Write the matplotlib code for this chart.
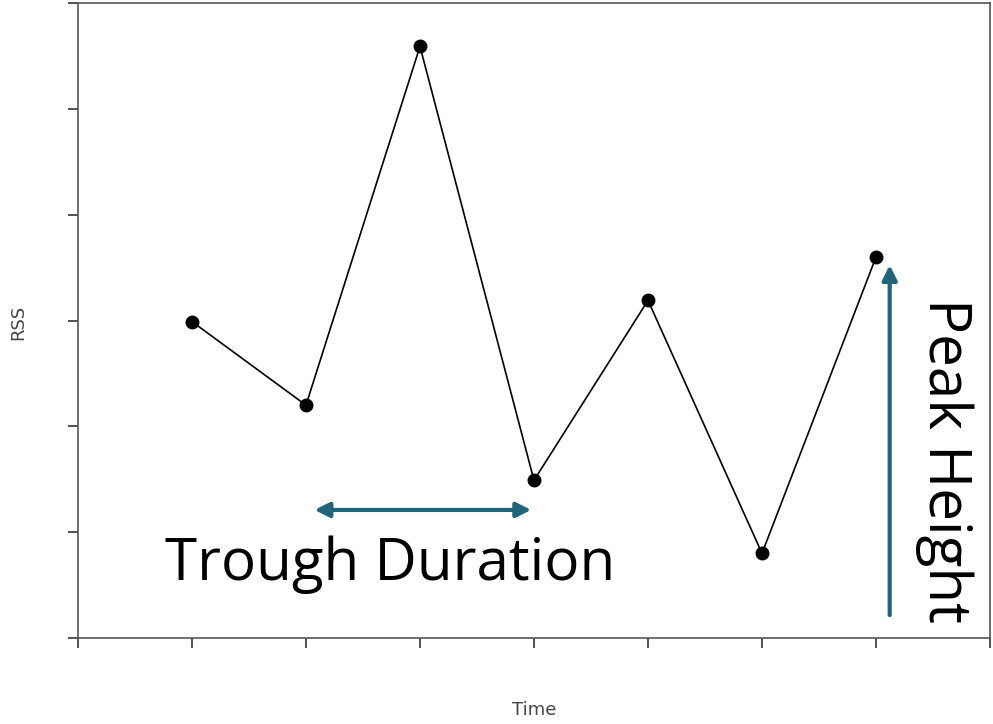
import matplotlib
matplotlib.use("Agg")
import matplotlib.pyplot as plt

time = [1, 2, 3, 4, 5, 6, 7]
rss = [2.99, 2.20, 5.59, 1.49, 3.19, 0.80, 3.60]
teal = "#1f6478"

fig = plt.figure(figsize=(9.93, 7.24), dpi=100)
ax = fig.add_axes([0.0785, 0.1188, 0.9185, 0.877])
ax.plot(time, rss, color="black", lw=1.2, marker="o", markersize=9)

ax.set_xlim(0, 8)
ax.set_ylim(0, 6)
ax.set_xticks(range(0, 9))
ax.set_yticks(range(0, 7))
ax.set_xticklabels([])
ax.set_yticklabels([])
ax.tick_params(direction="out", length=7, width=1.2, color="#333333")
for s in ax.spines.values():
    s.set_color("#555555")
    s.set_linewidth(1.2)

fig.text(534 / 993, 1 - 710 / 724, "Time", fontsize=13, color="#444444",
         ha="center", va="center")
fig.text(18 / 993, 1 - 322 / 724, "RSS", fontsize=13, color="#444444",
         ha="center", va="center", rotation=90)

# annotations
ax.annotate("", xy=(4.0, 1.21), xytext=(2.05, 1.21),
            arrowprops=dict(arrowstyle="<|-|>", color=teal, lw=3, mutation_scale=22))
ax.text(2.74, 0.69, "Trough Duration", fontsize=42, ha="center", va="center",
        family="Open Sans")
ax.annotate("", xy=(7.12, 3.55), xytext=(7.12, 0.19),
            arrowprops=dict(arrowstyle="-|>", color=teal, lw=3, mutation_scale=22))
ax.text(7.6, 1.68, "Peak Height", fontsize=42, ha="center", va="center",
        rotation=-90, family="Open Sans")

fig.savefig("out.png", dpi=100)
